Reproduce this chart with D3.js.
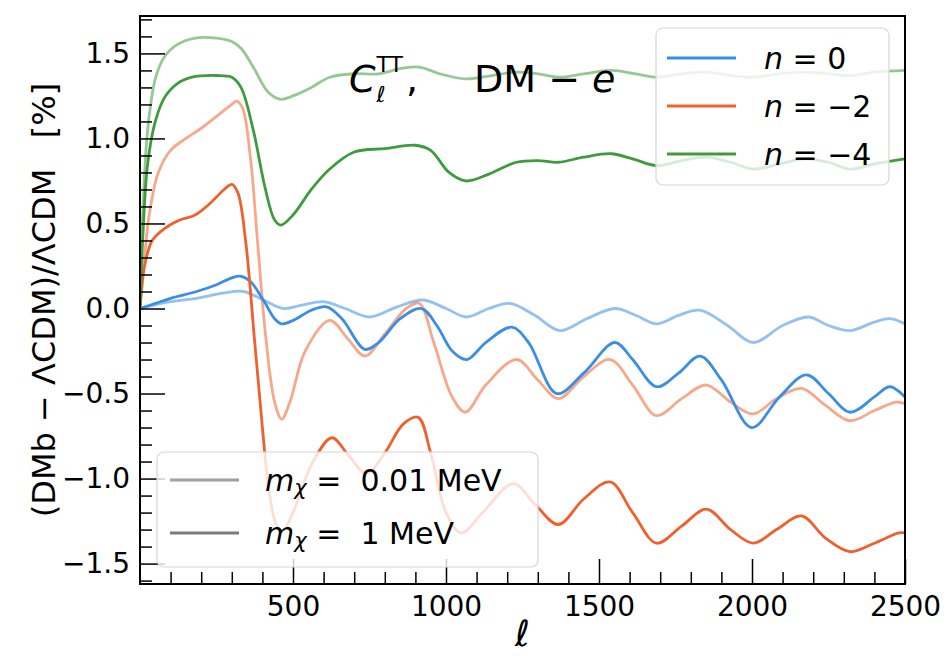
<!DOCTYPE html>
<html><head><meta charset="utf-8">
<script src="https://cdn.jsdelivr.net/npm/d3@7"></script>
<style>body{margin:0;background:#fff} svg{display:block} text{font-family:"DejaVu Sans",sans-serif}</style>
</head><body>
<svg id="c" width="951" height="659"></svg>
<script>
// ---- data ----
const xTicks = [500, 1000, 1500, 2000, 2500];
const yTicks = [-1.5, -1.0, -0.5, 0.0, 0.5, 1.0, 1.5];
const nValues = ["0", "−2", "−4"];
const massLabels = ["0.01 MeV", "1 MeV"];

// n = 0
const n0_light = [[0,0],[100,0.04],[185,0.06],[270,0.09],[338,0.10],[403,0.05],[468,0.00],[530,0.02],[599,0.04],[670,0.0],[751,-0.05],[840,0.01],[925,0.05],[1000,0.0],[1067,-0.05],[1140,0.0],[1209,0.03],[1290,-0.04],[1372,-0.13],[1460,-0.06],[1552,0.00],[1620,-0.04],[1688,-0.09],[1760,-0.04],[1830,-0.01],[1920,-0.1],[2004,-0.20],[2100,-0.1],[2184,-0.05],[2250,-0.1],[2320,-0.13],[2400,-0.08],[2450,-0.06],[2500,-0.09]];
const n0_dark = [[0,0],[50,0.03],[100,0.06],[185,0.10],[250,0.14],[300,0.18],[327,0.19],[360,0.16],[403,0.05],[440,-0.06],[463,-0.09],[500,-0.07],[560,-0.01],[610,0.01],[660,-0.06],[735,-0.24],[780,-0.2],[850,-0.06],[920,0.00],[970,-0.1],[1020,-0.25],[1068,-0.30],[1130,-0.2],[1215,-0.11],[1270,-0.2],[1362,-0.50],[1450,-0.38],[1552,-0.20],[1610,-0.30],[1688,-0.46],[1760,-0.38],[1830,-0.28],[1900,-0.42],[1999,-0.70],[2090,-0.52],[2178,-0.39],[2250,-0.50],[2320,-0.61],[2400,-0.52],[2450,-0.46],[2500,-0.52]];
// n = -2
const n2_light = [[0,0],[15,0.3],[30,0.55],[60,0.8],[100,0.93],[150,1.0],[200,1.06],[250,1.13],[300,1.2],[315,1.22],[335,1.18],[360,0.9],[386,0.35],[410,-0.15],[440,-0.55],[463,-0.65],[490,-0.55],[540,-0.25],[620,-0.07],[680,-0.18],[735,-0.28],[800,-0.15],[870,0.0],[913,0.03],[960,-0.2],[1020,-0.52],[1063,-0.61],[1130,-0.45],[1231,-0.30],[1300,-0.42],[1367,-0.53],[1450,-0.4],[1536,-0.30],[1610,-0.45],[1688,-0.63],[1770,-0.53],[1851,-0.45],[1930,-0.55],[2004,-0.62],[2080,-0.53],[2162,-0.47],[2240,-0.57],[2320,-0.66],[2400,-0.6],[2472,-0.55],[2500,-0.56]];
const n2_dark = [[0,0],[15,0.25],[40,0.4],[80,0.47],[130,0.52],[180,0.55],[230,0.62],[275,0.70],[300,0.73],[320,0.68],[345,0.4],[375,-0.2],[400,-0.7],[420,-1.05],[445,-1.27],[465,-1.31],[500,-1.2],[560,-0.92],[627,-0.76],[680,-0.86],[740,-0.97],[800,-0.85],[860,-0.68],[909,-0.64],[950,-0.85],[1000,-1.2],[1050,-1.32],[1120,-1.2],[1220,-1.03],[1290,-1.15],[1367,-1.27],[1450,-1.12],[1536,-1.02],[1610,-1.2],[1688,-1.38],[1770,-1.28],[1851,-1.18],[1930,-1.3],[2004,-1.38],[2080,-1.3],[2162,-1.22],[2240,-1.35],[2320,-1.43],[2400,-1.38],[2480,-1.32],[2500,-1.32]];
// n = -4
const n4_light = [[0,0],[10,0.6],[25,1.05],[50,1.35],[80,1.48],[120,1.55],[180,1.59],[250,1.59],[300,1.57],[330,1.53],[370,1.42],[420,1.27],[460,1.23],[500,1.25],[560,1.3],[620,1.36],[700,1.38],[780,1.38],[850,1.41],[913,1.42],[980,1.38],[1065,1.35],[1150,1.37],[1230,1.39],[1300,1.38],[1370,1.36],[1450,1.38],[1540,1.40],[1620,1.38],[1690,1.36],[1770,1.38],[1850,1.39],[1930,1.37],[2004,1.36],[2090,1.38],[2170,1.39],[2250,1.38],[2320,1.37],[2400,1.39],[2500,1.40]];
const n4_dark = [[0,0],[10,0.45],[25,0.85],[50,1.1],[80,1.24],[120,1.32],[170,1.36],[250,1.37],[300,1.36],[330,1.3],[370,1.05],[410,0.7],[440,0.52],[460,0.49],[500,0.55],[560,0.7],[620,0.82],[700,0.92],[800,0.94],[900,0.96],[950,0.93],[1010,0.80],[1065,0.75],[1140,0.79],[1230,0.86],[1300,0.87],[1367,0.86],[1450,0.89],[1540,0.91],[1610,0.88],[1688,0.84],[1770,0.87],[1850,0.89],[1930,0.86],[2004,0.82],[2090,0.85],[2170,0.88],[2250,0.86],[2320,0.82],[2400,0.85],[2500,0.88]];

const colors = ["#3a8ee6", "#f0602c", "#3e9b3e"];
const lightSeries = [n0_light, n2_light, n4_light];
const darkSeries = [n0_dark, n2_dark, n4_dark];

// ---- drawing ----
const svg = d3.select("#c");
const L = 140, R = 905, T = 16, B = 584;
const x = d3.scaleLinear().domain([0, 2500]).range([L, R]);
const y = d3.scaleLinear().domain([-1.62, 1.72]).range([B, T]);

svg.append("defs").append("clipPath").attr("id","clip")
  .append("rect").attr("x",L).attr("y",T).attr("width",R-L).attr("height",B-T);

const line = d3.line().x(d=>x(d[0])).y(d=>y(d[1])).curve(d3.curveCatmullRom.alpha(0.5));
const g = svg.append("g").attr("clip-path","url(#clip)");
lightSeries.forEach((s,i)=>{
  g.append("path").attr("d",line(s)).attr("fill","none")
   .attr("stroke",colors[i]).attr("stroke-opacity",0.55).attr("stroke-width",2.8);
});
darkSeries.forEach((s,i)=>{
  g.append("path").attr("d",line(s)).attr("fill","none")
   .attr("stroke",colors[i]).attr("stroke-width",2.8);
});

// axes
const fmt = d3.format(".1f");
const yMinor = d3.range(-16, 18).map(v=>v/10).filter(v=>Math.abs(v*2-Math.round(v*2))>1e-6);
const xMinor = d3.range(100, 2500, 100).filter(v=>v%500!==0);

const ay = svg.append("g").attr("transform",`translate(${L},0)`)
  .call(d3.axisLeft(y).tickValues(yTicks).tickFormat(fmt).tickSizeInner(-25).tickSizeOuter(0).tickPadding(10));
const ayMin = svg.append("g").attr("transform",`translate(${L},0)`)
  .call(d3.axisLeft(y).tickValues(yMinor).tickFormat("").tickSizeInner(-12).tickSizeOuter(0));
const ax = svg.append("g").attr("transform",`translate(0,${B})`)
  .call(d3.axisBottom(x).tickValues(xTicks).tickFormat(d3.format("d")).tickSizeInner(-25).tickSizeOuter(0).tickPadding(12));
const axMin = svg.append("g").attr("transform",`translate(0,${B})`)
  .call(d3.axisBottom(x).tickValues(xMinor).tickFormat("").tickSizeInner(-12).tickSizeOuter(0));
[ay,ayMin,ax,axMin].forEach(a=>{
  a.select(".domain").remove();
  a.selectAll("line").attr("stroke","#000").attr("stroke-width",1.5);
  a.selectAll("text").attr("font-size",28).attr("fill","#000").attr("font-family","DejaVu Sans");
});

svg.append("rect").attr("x",L).attr("y",T).attr("width",R-L).attr("height",B-T)
  .attr("fill","none").attr("stroke","#000").attr("stroke-width",2);

// axis labels
svg.append("text").attr("transform",`translate(44,${(T+B)/2}) rotate(-90)`)
  .attr("text-anchor","middle").attr("dominant-baseline","central").attr("font-size",32)
  .style("white-space","pre").text("(DMb − ΛCDM)/ΛCDM   [%]");
svg.append("text").attr("x",(L+R)/2).attr("y",646).attr("text-anchor","middle")
  .attr("font-size",36).attr("font-style","italic").text("ℓ");

// title
const tx = 349, tb = 92;
const tC = svg.append("text").attr("x",tx).attr("y",tb).attr("font-size",38).attr("font-style","italic").text("C");
const cw = tC.node().getComputedTextLength();
svg.append("text").attr("x",tx+cw+1).attr("y",tb+10).attr("font-size",22).attr("font-style","italic").text("ℓ");
const tTT = svg.append("text").attr("x",tx+cw+1).attr("y",tb-20).attr("font-size",22).text("TT");
const ttw = tTT.node().getComputedTextLength();
svg.append("text").attr("x",tx+cw+ttw+4).attr("y",tb).attr("font-size",38).text(",");
const tDM = svg.append("text").attr("x",474).attr("y",tb).attr("font-size",38).style("white-space","pre");
tDM.append("tspan").text("DM − ");
tDM.append("tspan").attr("font-style","italic").text("e");

// legend 1 (n)
const lg1 = svg.append("g");
lg1.append("rect").attr("x",656).attr("y",28).attr("width",233).attr("height",157).attr("rx",7)
  .attr("fill","#fff").attr("fill-opacity",0.8).attr("stroke","#d6d6d6").attr("stroke-width",1.2);
nValues.forEach((v,i)=>{
  const yy = 58 + i*48;
  lg1.append("line").attr("x1",667).attr("x2",736).attr("y1",yy).attr("y2",yy)
    .attr("stroke",colors[i]).attr("stroke-width",2.8);
  const t = lg1.append("text").attr("x",764).attr("y",yy).attr("dominant-baseline","central")
    .attr("font-size",30).style("white-space","pre");
  t.append("tspan").attr("font-style","italic").text("n");
  t.append("tspan").text(" = " + v);
});

// legend 2 (mass)
const lg2 = svg.append("g");
lg2.append("rect").attr("x",157).attr("y",452).attr("width",381).attr("height",115).attr("rx",7)
  .attr("fill","#fff").attr("fill-opacity",0.8).attr("stroke","#d6d6d6").attr("stroke-width",1.2);
const grays = ["#a0a0a0","#7c7c7c"];
massLabels.forEach((m,i)=>{
  const yy = 480 + i*53;
  lg2.append("line").attr("x1",170).attr("x2",239).attr("y1",yy).attr("y2",yy)
    .attr("stroke",grays[i]).attr("stroke-width",2.8);
  const t = lg2.append("text").attr("x",265).attr("y",yy).attr("dominant-baseline","central")
    .attr("font-size",30).style("white-space","pre");
  t.append("tspan").attr("font-style","italic").text("m");
  t.append("tspan").attr("font-style","italic").attr("font-size",21).attr("dy",8).text("χ");
  t.append("tspan").attr("dy",-8).text(" =  " + m);
});
</script>
</body></html>
